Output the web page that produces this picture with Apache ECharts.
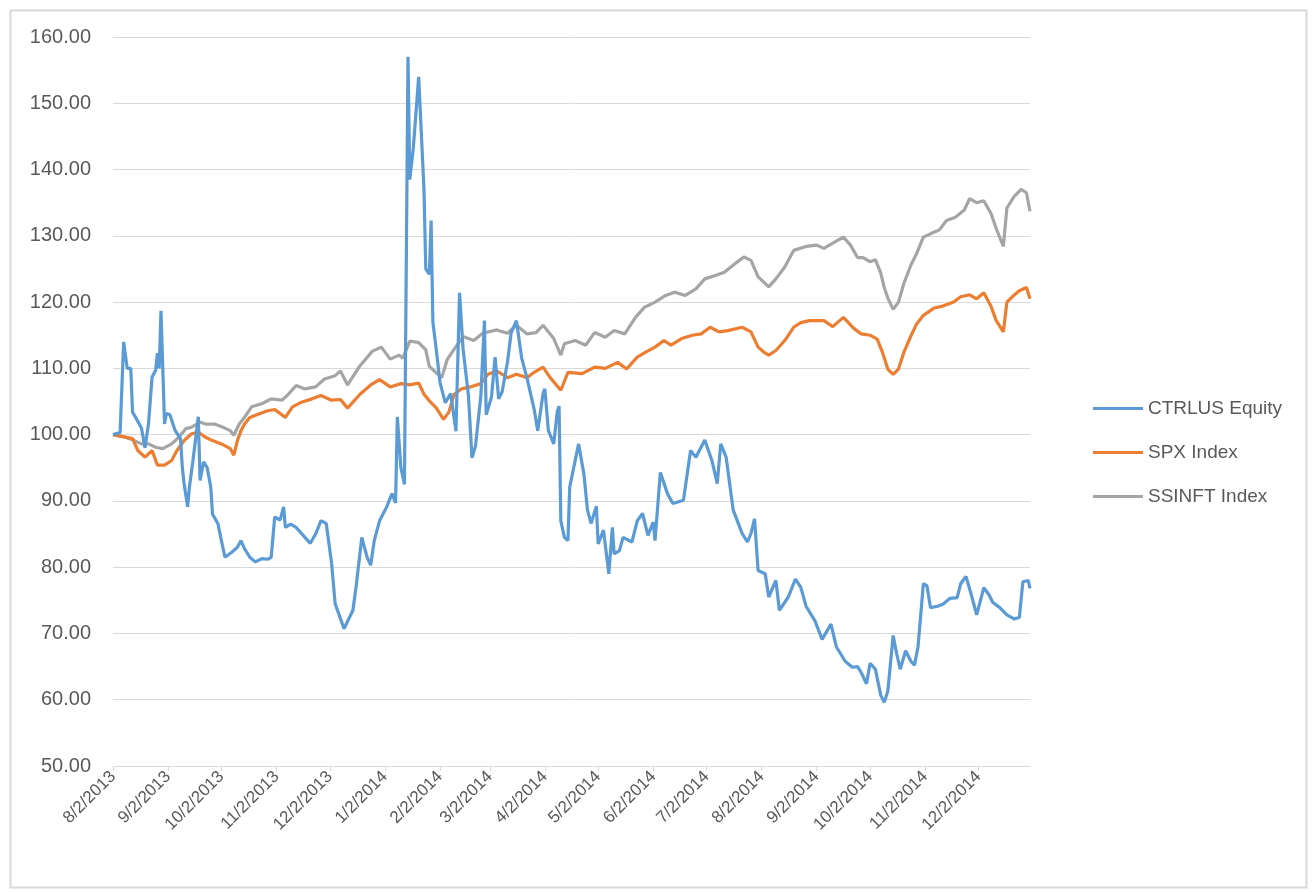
<!DOCTYPE html>
<html>
<head>
<meta charset="utf-8">
<script src="https://cdn.jsdelivr.net/npm/echarts@6/dist/echarts.min.js"></script>
<style>
html,body{margin:0;padding:0;background:#fff;}
#chart{width:1313px;height:892px;}
</style>
</head>
<body>
<div id="chart"></div>
<script>
// ---- Data ----
const seriesNames = ["CTRLUS Equity", "SPX Index", "SSINFT Index"];
const yTicks = { min: 50, max: 160, step: 10 };

const ctrl = [["8/2/2013",100],["8/6/2013",100.3],["8/8/2013",114],["8/10/2013",110],["8/12/2013",110],["8/13/2013",103.4],["8/16/2013",102],["8/18/2013",101],["8/20/2013",98],["8/22/2013",101.7],["8/24/2013",108.7],["8/26/2013",109.7],["8/27/2013",112.3],["8/28/2013",110],["8/29/2013",118.7],["8/31/2013",101.6],["9/1/2013",103.2],["9/3/2013",103],["9/6/2013",100.6],["9/9/2013",99.4],["9/10/2013",95.1],["9/11/2013",92.6],["9/13/2013",89.1],["9/14/2013",92.1],["9/16/2013",96.1],["9/19/2013",102.7],["9/20/2013",93.1],["9/22/2013",95.9],["9/24/2013",95],["9/26/2013",92.1],["9/27/2013",88],["9/30/2013",86.6],["10/2/2013",84],["10/4/2013",81.5],["10/8/2013",82.3],["10/11/2013",83],["10/13/2013",84],["10/15/2013",82.8],["10/18/2013",81.5],["10/21/2013",80.8],["10/25/2013",81.3],["10/28/2013",81.2],["10/30/2013",81.5],["11/1/2013",87.6],["11/4/2013",87.1],["11/6/2013",89.1],["11/7/2013",86],["11/10/2013",86.5],["11/13/2013",86],["11/16/2013",85.1],["11/21/2013",83.6],["11/24/2013",85],["11/27/2013",87],["11/30/2013",86.6],["12/3/2013",80.6],["12/5/2013",74.5],["12/10/2013",70.7],["12/15/2013",73.5],["12/17/2013",77.5],["12/20/2013",84.5],["12/23/2013",81.5],["12/25/2013",80.3],["12/27/2013",84],["12/30/2013",87],["1/3/2014",89.1],["1/6/2014",91.1],["1/8/2014",89.7],["1/9/2014",102.7],["1/11/2014",95],["1/13/2014",92.5],["1/15/2014",157],["1/16/2014",138.5],["1/18/2014",143.3],["1/21/2014",154],["1/24/2014",136.9],["1/25/2014",125],["1/27/2014",124.2],["1/28/2014",132.3],["1/29/2014",117],["1/31/2014",112.6],["2/2/2014",107.9],["2/5/2014",104.8],["2/8/2014",106.2],["2/11/2014",100.5],["2/13/2014",121.4],["2/15/2014",112.9],["2/18/2014",105.9],["2/20/2014",96.5],["2/22/2014",98.3],["2/25/2014",105.9],["2/27/2014",117.2],["2/28/2014",103],["3/3/2014",105.7],["3/5/2014",111.7],["3/7/2014",105.4],["3/9/2014",106.5],["3/12/2014",111],["3/14/2014",115.3],["3/17/2014",117.2],["3/20/2014",111.5],["3/23/2014",108.5],["3/27/2014",103.8],["3/29/2014",100.6],["4/1/2014",106.2],["4/2/2014",106.9],["4/4/2014",100.6],["4/7/2014",98.6],["4/9/2014",103.5],["4/10/2014",104.3],["4/11/2014",87],["4/13/2014",84.5],["4/15/2014",84],["4/16/2014",92.1],["4/21/2014",98.6],["4/24/2014",94],["4/26/2014",88.6],["4/28/2014",86.6],["5/1/2014",89.2],["5/2/2014",83.5],["5/5/2014",85.6],["5/8/2014",79],["5/10/2014",86],["5/11/2014",82],["5/14/2014",82.5],["5/16/2014",84.5],["5/21/2014",83.8],["5/24/2014",87],["5/27/2014",88.1],["5/30/2014",84.8],["6/2/2014",86.8],["6/3/2014",84],["6/6/2014",94.3],["6/10/2014",91.1],["6/13/2014",89.6],["6/19/2014",90.1],["6/23/2014",97.6],["6/26/2014",96.6],["7/1/2014",99.2],["7/5/2014",96.1],["7/8/2014",92.6],["7/10/2014",98.6],["7/13/2014",96.6],["7/17/2014",88.6],["7/22/2014",85.1],["7/25/2014",83.8],["7/27/2014",85.1],["7/29/2014",87.3],["7/31/2014",79.5],["8/4/2014",79],["8/6/2014",75.5],["8/10/2014",78],["8/12/2014",73.5],["8/17/2014",75.5],["8/21/2014",78.2],["8/24/2014",77],["8/27/2014",74.1],["9/1/2014",71.9],["9/5/2014",69.1],["9/10/2014",71.4],["9/13/2014",68],["9/18/2014",65.8],["9/22/2014",64.9],["9/25/2014",65],["9/27/2014",64.1],["9/30/2014",62.4],["10/2/2014",65.5],["10/5/2014",64.6],["10/8/2014",60.7],["10/10/2014",59.6],["10/12/2014",61.3],["10/15/2014",69.7],["10/17/2014",66.9],["10/19/2014",64.6],["10/22/2014",67.4],["10/25/2014",65.8],["10/27/2014",65.2],["10/29/2014",68],["11/1/2014",77.5],["11/3/2014",77.2],["11/5/2014",73.9],["11/9/2014",74.1],["11/12/2014",74.4],["11/16/2014",75.3],["11/20/2014",75.4],["11/22/2014",77.5],["11/25/2014",78.6],["11/28/2014",75.8],["12/1/2014",72.8],["12/5/2014",76.9],["12/8/2014",75.8],["12/10/2014",74.7],["12/14/2014",73.9],["12/18/2014",72.8],["12/22/2014",72.2],["12/25/2014",72.4],["12/27/2014",77.8],["12/30/2014",78],["12/31/2014",76.8]];

const spx = [["8/2/2013",100],["8/13/2013",99.4],["8/16/2013",97.6],["8/20/2013",96.6],["8/24/2013",97.6],["8/27/2013",95.4],["8/31/2013",95.4],["9/4/2013",96.1],["9/7/2013",97.6],["9/11/2013",99.1],["9/15/2013",100.1],["9/19/2013",100.4],["9/23/2013",99.6],["9/27/2013",99.1],["10/2/2013",98.6],["10/7/2013",97.9],["10/9/2013",96.9],["10/11/2013",99.1],["10/13/2013",100.6],["10/15/2013",101.6],["10/18/2013",102.6],["10/23/2013",103.1],["10/28/2013",103.6],["11/1/2013",103.8],["11/7/2013",102.6],["11/11/2013",104.2],["11/16/2013",104.9],["11/22/2013",105.4],["11/27/2013",105.9],["12/3/2013",105.2],["12/8/2013",105.3],["12/12/2013",104],["12/19/2013",106.1],["12/25/2013",107.5],["12/30/2013",108.3],["1/5/2014",107.2],["1/11/2014",107.7],["1/16/2014",107.5],["1/21/2014",107.8],["1/24/2014",106.1],["1/27/2014",105.1],["1/31/2014",104],["2/4/2014",102.3],["2/7/2014",103.4],["2/10/2014",106.1],["2/14/2014",106.9],["2/19/2014",107.2],["2/25/2014",107.7],["3/1/2014",109.1],["3/6/2014",109.6],["3/12/2014",108.6],["3/17/2014",109.1],["3/23/2014",108.6],["3/27/2014",109.4],["4/1/2014",110.2],["4/5/2014",108.6],["4/11/2014",106.7],["4/15/2014",109.4],["4/23/2014",109.2],["4/30/2014",110.2],["5/6/2014",110],["5/13/2014",110.9],["5/18/2014",109.9],["5/24/2014",111.7],["5/29/2014",112.5],["6/3/2014",113.2],["6/8/2014",114.2],["6/12/2014",113.5],["6/18/2014",114.5],["6/24/2014",115],["6/29/2014",115.2],["7/4/2014",116.2],["7/9/2014",115.5],["7/14/2014",115.7],["7/22/2014",116.2],["7/27/2014",115.5],["7/31/2014",113.2],["8/3/2014",112.5],["8/6/2014",112],["8/10/2014",112.7],["8/15/2014",114.2],["8/20/2014",116.2],["8/24/2014",116.9],["8/29/2014",117.2],["9/6/2014",117.2],["9/11/2014",116.3],["9/17/2014",117.7],["9/23/2014",116],["9/27/2014",115.2],["10/2/2014",115],["10/6/2014",114.4],["10/9/2014",112.4],["10/12/2014",109.9],["10/15/2014",109.1],["10/18/2014",109.9],["10/21/2014",112.4],["10/25/2014",114.9],["10/28/2014",116.6],["11/1/2014",118],["11/7/2014",119.1],["11/12/2014",119.4],["11/18/2014",120],["11/22/2014",120.8],["11/27/2014",121.1],["12/1/2014",120.5],["12/5/2014",121.4],["12/9/2014",119.4],["12/12/2014",117.2],["12/16/2014",115.5],["12/18/2014",120],["12/21/2014",120.8],["12/25/2014",121.7],["12/29/2014",122.2],["12/31/2014",120.5]];

const ssinft = [["8/2/2013",100],["8/9/2013",99.6],["8/14/2013",99.1],["8/18/2013",98.6],["8/22/2013",98.6],["8/26/2013",98.1],["8/30/2013",97.9],["9/4/2013",98.6],["9/8/2013",99.6],["9/12/2013",100.9],["9/15/2013",101.1],["9/20/2013",101.9],["9/23/2013",101.6],["9/28/2013",101.6],["10/3/2013",101.1],["10/7/2013",100.6],["10/9/2013",99.9],["10/12/2013",101.6],["10/15/2013",102.6],["10/19/2013",104.2],["10/25/2013",104.7],["10/30/2013",105.4],["11/5/2013",105.2],["11/8/2013",105.9],["11/13/2013",107.4],["11/18/2013",106.9],["11/24/2013",107.2],["11/29/2013",108.4],["12/5/2013",108.9],["12/8/2013",109.6],["12/12/2013",107.5],["12/19/2013",110.4],["12/26/2013",112.6],["12/31/2013",113.2],["1/5/2014",111.4],["1/10/2014",112],["1/12/2014",111.5],["1/16/2014",114.1],["1/21/2014",113.9],["1/25/2014",112.8],["1/27/2014",110.3],["1/31/2014",109.3],["2/3/2014",108.6],["2/6/2014",111.3],["2/10/2014",112.9],["2/15/2014",114.8],["2/21/2014",114.2],["2/26/2014",115.3],["3/6/2014",115.8],["3/12/2014",115.3],["3/17/2014",116.5],["3/23/2014",115.2],["3/28/2014",115.4],["4/1/2014",116.5],["4/7/2014",114.5],["4/11/2014",112],["4/13/2014",113.7],["4/19/2014",114.2],["4/25/2014",113.5],["4/30/2014",115.4],["5/6/2014",114.7],["5/11/2014",115.7],["5/17/2014",115.2],["5/23/2014",117.7],["5/28/2014",119.2],["6/3/2014",120],["6/9/2014",121],["6/14/2014",121.5],["6/20/2014",121],["6/26/2014",122],["7/1/2014",123.5],["7/7/2014",124],["7/12/2014",124.5],["7/18/2014",125.8],["7/23/2014",126.8],["7/27/2014",126.3],["7/31/2014",123.8],["8/6/2014",122.3],["8/10/2014",123.5],["8/15/2014",125.3],["8/20/2014",127.8],["8/27/2014",128.4],["9/2/2014",128.6],["9/6/2014",128.1],["9/11/2014",128.9],["9/17/2014",129.8],["9/21/2014",128.6],["9/25/2014",126.7],["9/28/2014",126.7],["10/2/2014",126.1],["10/5/2014",126.4],["10/8/2014",124.4],["10/10/2014",122.2],["10/12/2014",120.6],["10/15/2014",118.9],["10/18/2014",120],["10/21/2014",122.8],["10/25/2014",125.6],["10/28/2014",127.2],["11/1/2014",129.8],["11/5/2014",130.3],["11/10/2014",130.9],["11/14/2014",132.3],["11/19/2014",132.8],["11/24/2014",133.9],["11/27/2014",135.6],["12/1/2014",135],["12/5/2014",135.3],["12/9/2014",133.4],["12/12/2014",131.1],["12/16/2014",128.4],["12/18/2014",134.2],["12/22/2014",135.9],["12/26/2014",137],["12/29/2014",136.5],["12/31/2014",133.7]];

const axisStart = "8/2/2013";
const axisEnd = "12/31/2014";

// ---- Category axis: every calendar day ----
function parseMDY(s){ const p = s.split('/').map(Number); return new Date(p[2], p[0]-1, p[1]); }
function fmtMDY(d){ return (d.getMonth()+1) + '/' + d.getDate() + '/' + d.getFullYear(); }
const categories = [];
for (let d = parseMDY(axisStart); d <= parseMDY(axisEnd); d.setDate(d.getDate()+1)) {
  categories.push(fmtMDY(d));
}
const isLabelDay = (idx, val) => String(val).split('/')[1] === '2';

const FONT = 'Liberation Sans';
const colors = ['#5B9BD5', '#ED7D31', '#A5A5A5'];
const chart = echarts.init(document.getElementById('chart'), null, {renderer: 'canvas'});
chart.setOption({
  animation: false,
  backgroundColor: '#ffffff',
  color: colors,
  textStyle: { fontFamily: FONT },
  graphic: [{
    type: 'rect', left: 8, top: 8, silent: true,
    shape: { width: 1296, height: 877 },
    style: { fill: 'none', stroke: '#d9d9d9', lineWidth: 2 }
  }],
  grid: { left: 113, right: 283, top: 37, bottom: 126, containLabel: false },
  legend: {
    orient: 'vertical', left: 1088, top: 394,
    icon: 'rect', itemWidth: 50, itemHeight: 3, itemGap: 25,
    textStyle: { fontFamily: FONT, fontSize: 19, color: '#595959' },
    data: seriesNames
  },
  xAxis: {
    type: 'category', data: categories, boundaryGap: false,
    axisLine: { lineStyle: { color: '#d9d9d9', width: 1 } },
    axisTick: { show: true, interval: isLabelDay, length: 5, lineStyle: { color: '#d9d9d9' } },
    axisLabel: { interval: isLabelDay, rotate: 45, color: '#595959', fontSize: 17, fontFamily: FONT, margin: 8 },
    splitLine: { show: false }
  },
  yAxis: {
    type: 'value', min: yTicks.min, max: yTicks.max, interval: yTicks.step,
    axisLine: { show: false }, axisTick: { show: false },
    axisLabel: { color: '#595959', fontSize: 20, fontFamily: FONT, margin: 22, formatter: v => v.toFixed(2) },
    splitLine: { lineStyle: { color: '#d9d9d9', width: 1 } }
  },
  series: [ctrl, spx, ssinft].map((arr, i) => ({
    name: seriesNames[i], type: 'line', data: arr,
    symbol: 'none', showSymbol: false, smooth: false,
    lineStyle: { width: 3.2, color: colors[i] },
    z: 3 - i
  }))
});
</script>
</body>
</html>
